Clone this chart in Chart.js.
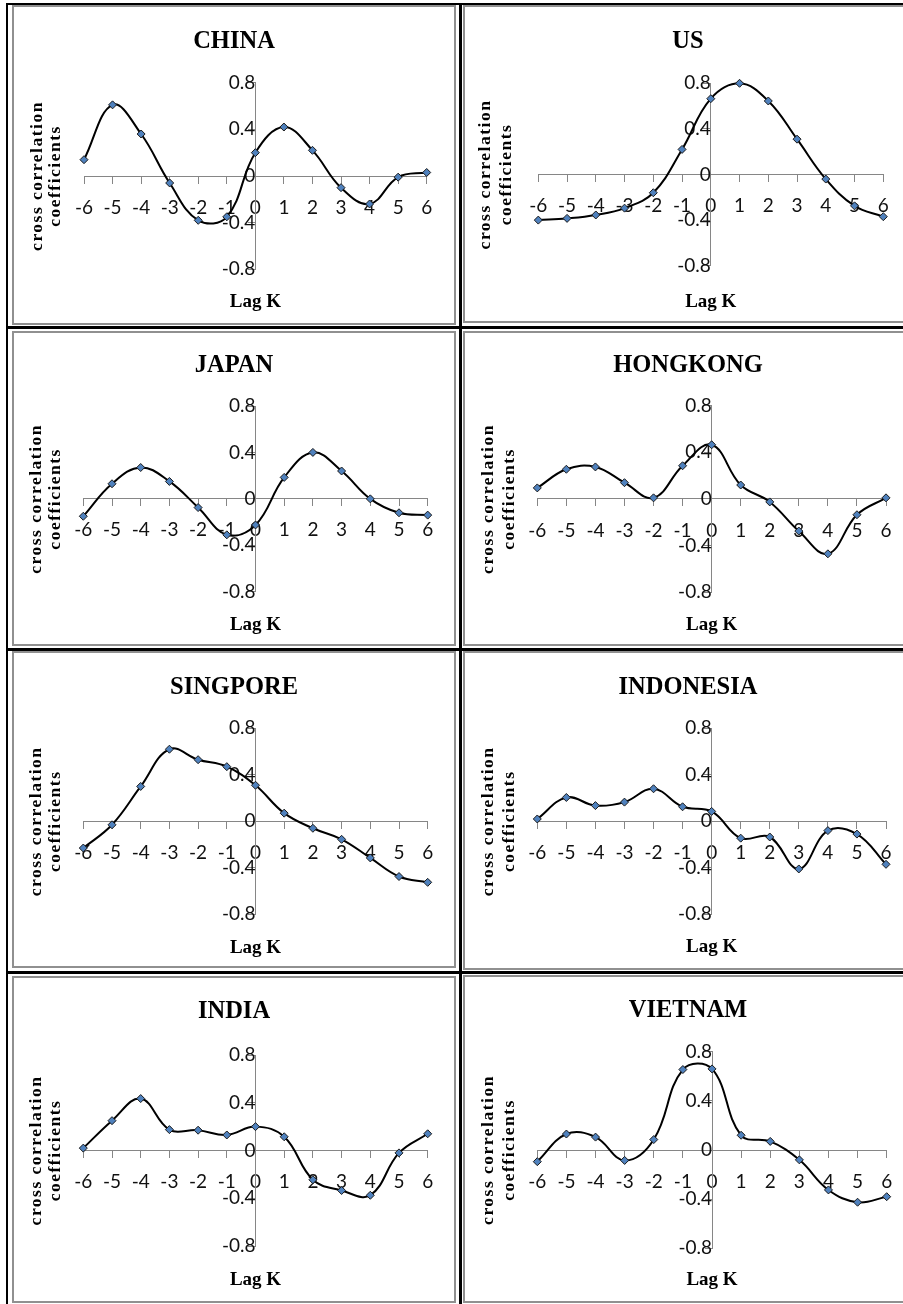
<!DOCTYPE html>
<html>
<head>
<meta charset="utf-8">
<script src="https://cdn.jsdelivr.net/npm/chart.js@4.4.0/dist/chart.umd.min.js"></script>
<style>
html, body { margin: 0; padding: 0; background: #fff; overflow: hidden; }
#page { position: relative; width: 903px; height: 1304px; overflow: hidden; background: #fff; }
#page canvas { position: absolute; outline: 2px solid #909090; outline-offset: -2px; }
.rule { position: absolute; background: #000; }
</style>
</head>
<body>
<div id="page"></div>
<script>
// data
const lags = [-6, -5, -4, -3, -2, -1, 0, 1, 2, 3, 4, 5, 6];
const yTicks = [-0.8, -0.4, 0, 0.4, 0.8];
const countries = ['CHINA', 'US', 'JAPAN', 'HONGKONG', 'SINGPORE', 'INDONESIA', 'INDIA', 'VIETNAM'];
const xTitle = 'Lag K';
const yTitle = ['cross correlation', 'coefficients'];

const china     = [0.14, 0.61, 0.36, -0.06, -0.38, -0.35, 0.20, 0.42, 0.22, -0.10, -0.24, -0.01, 0.03];
const us        = [-0.40, -0.385, -0.355, -0.295, -0.16, 0.22, 0.665, 0.80, 0.645, 0.31, -0.04, -0.275, -0.37];
const japan     = [-0.15, 0.13, 0.27, 0.15, -0.075, -0.31, -0.225, 0.185, 0.40, 0.24, 0.0, -0.12, -0.14];
const hongkong  = [0.095, 0.255, 0.275, 0.14, 0.01, 0.285, 0.465, 0.12, -0.025, -0.275, -0.47, -0.135, 0.01];
const singapore = [-0.23, -0.03, 0.30, 0.62, 0.53, 0.47, 0.31, 0.07, -0.06, -0.155, -0.315, -0.475, -0.525];
const indonesia = [0.02, 0.205, 0.135, 0.165, 0.28, 0.125, 0.085, -0.145, -0.135, -0.41, -0.08, -0.11, -0.37];
const india     = [0.02, 0.25, 0.435, 0.175, 0.17, 0.13, 0.20, 0.115, -0.245, -0.335, -0.375, -0.02, 0.14];
const vietnam   = [-0.095, 0.13, 0.105, -0.085, 0.085, 0.655, 0.66, 0.12, 0.07, -0.08, -0.325, -0.425, -0.38];

const seriesList = [china, us, japan, hongkong, singapore, indonesia, india, vietnam];

// page layout (pixels): chart box, plot area [left, right, top, bottom], text positions
const panels = [
  { x: 12,  y: 5,   w: 444, h: 320, plot: [84, 426.7, 82.7, 269.3],     titleY: 48.3,   lagY: 302,   yt: [37, 55.7] },
  { x: 463, y: 5,   w: 450, h: 318, plot: [538.3, 883.3, 83.3, 265.7],  titleY: 48,     lagY: 301.7, yt: [485.8, 506.7] },
  { x: 12,  y: 331, w: 444, h: 315, plot: [83.3, 427.7, 406, 591.7],    titleY: 371.7,  lagY: 625,   yt: [36.7, 55.8] },
  { x: 463, y: 331, w: 450, h: 315, plot: [537.3, 886, 405.7, 592.3],   titleY: 371.7,  lagY: 625,   yt: [488, 509] },
  { x: 12,  y: 651, w: 444, h: 317, plot: [83.3, 427.7, 728.3, 914.3],  titleY: 694.3,  lagY: 947.7, yt: [36.7, 55.8] },
  { x: 463, y: 651, w: 450, h: 319, plot: [537.3, 886, 728.3, 914.3],   titleY: 694.3,  lagY: 946.7, yt: [488, 509] },
  { x: 12,  y: 976, w: 444, h: 327, plot: [83.3, 427.7, 1055, 1246],    titleY: 1018.3, lagY: 1280,  yt: [36.7, 55.8] },
  { x: 463, y: 975, w: 450, h: 328, plot: [537.3, 886.7, 1051.7, 1248.3], titleY: 1016.7, lagY: 1280, yt: [488, 509] }
];

// black table rules: [left, top, width, height]
const rules = [
  [6, 3, 897, 2], [6, 3, 2, 1301], [459, 3, 3, 1301],
  [6, 326, 897, 3], [6, 648, 897, 3], [6, 971, 897, 3]
];

// titles drawn on the canvas
const panelText = {
  id: 'panelText',
  afterDraw(chart, args, opts) {
    const ctx = chart.ctx;
    const area = chart.chartArea;
    ctx.save();
    ctx.fillStyle = '#000';
    ctx.textAlign = 'center';
    ctx.textBaseline = 'alphabetic';
    ctx.font = 'bold 24.5px "Liberation Serif"';
    ctx.fillText(opts.title, chart.width / 2, opts.titleY);

    ctx.font = 'bold 19px "Liberation Serif"';
    ctx.textBaseline = 'middle';
    ctx.fillText(xTitle, (area.left + area.right) / 2, opts.lagY);

    ctx.font = 'bold 17.5px "Liberation Serif"';
    ctx.letterSpacing = '1.5px';
    const cy = (area.top + area.bottom) / 2;
    yTitle.forEach((line, i) => {
      ctx.save();
      ctx.translate(opts.yTitleX[i], cy);
      ctx.rotate(-Math.PI / 2);
      ctx.fillText(line, 0, 0);
      ctx.restore();
    });
    ctx.restore();
  }
};

const page = document.getElementById('page');

rules.forEach(r => {
  const d = document.createElement('div');
  d.className = 'rule';
  d.style.left = r[0] + 'px';
  d.style.top = r[1] + 'px';
  d.style.width = r[2] + 'px';
  d.style.height = r[3] + 'px';
  page.appendChild(d);
});

const axisGrey = '#868686';
const tickFont = { family: 'Lato', size: 19 };

panels.forEach((p, i) => {
  const c = document.createElement('canvas');
  c.width = p.w;
  c.height = p.h;
  c.style.left = p.x + 'px';
  c.style.top = p.y + 'px';
  page.appendChild(c);

  const pts = lags.map((k, j) => ({ x: k, y: seriesList[i][j] }));

  new Chart(c, {
    type: 'line',
    data: {
      datasets: [{
        data: pts,
        borderColor: '#000',
        borderWidth: 2,
        tension: 0.4,
        fill: false,
        clip: false,
        pointStyle: 'rectRot',
        pointRadius: 4,
        pointBorderWidth: 1,
        pointBackgroundColor: '#4f81bd',
        pointBorderColor: '#1a1a1a'
      }]
    },
    options: {
      responsive: false,
      animation: false,
      devicePixelRatio: 1,
      layout: {
        padding: {
          left: p.plot[0] - p.x,
          right: p.x + p.w - p.plot[1],
          top: p.plot[2] - p.y,
          bottom: p.y + p.h - p.plot[3]
        }
      },
      scales: {
        x: {
          type: 'linear',
          position: { y: 0 },
          min: -6,
          max: 6,
          afterBuildTicks: s => { s.ticks = lags.map(v => ({ value: v })); },
          grid: { display: true, drawOnChartArea: false, drawTicks: true, tickLength: 7, color: axisGrey, lineWidth: 1 },
          border: { display: true, color: axisGrey, width: 1 },
          ticks: { padding: 13, color: '#111', font: tickFont, maxRotation: 0, autoSkip: false, callback: v => String(v) }
        },
        y: {
          type: 'linear',
          position: { x: 0 },
          min: -0.8,
          max: 0.8,
          afterBuildTicks: s => { s.ticks = yTicks.map(v => ({ value: v })); },
          grid: { display: true, drawOnChartArea: false, drawTicks: true, tickLength: 7, color: axisGrey, lineWidth: 1 },
          border: { display: true, color: axisGrey, width: 1 },
          ticks: { padding: 10, color: '#111', font: tickFont, autoSkip: false, callback: v => String(v) }
        }
      },
      plugins: {
        legend: { display: false },
        tooltip: { enabled: false },
        panelText: { title: countries[i], titleY: p.titleY - p.y, lagY: p.lagY - p.y, yTitleX: p.yt.map(v => v - p.x) }
      }
    },
    plugins: [panelText]
  });
});
</script>
</body>
</html>
